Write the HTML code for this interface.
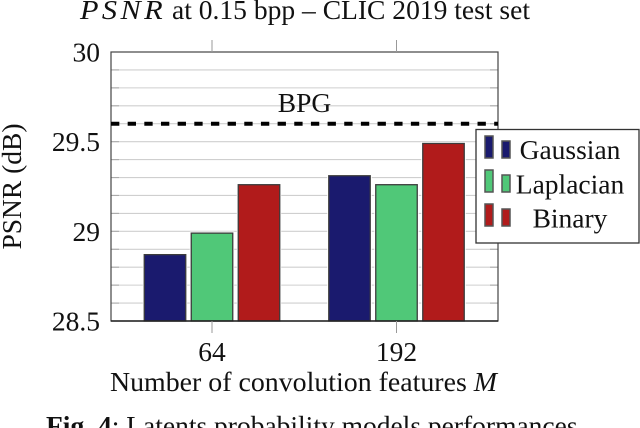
<!DOCTYPE html>
<html lang="en">
<head>
<meta charset="utf-8">
<title>PSNR at 0.15 bpp chart</title>
<style>
html,body{margin:0;padding:0;background:#fff;width:640px;height:428px;overflow:hidden}
svg{display:block;font-family:"Liberation Serif",serif;fill:#111}
</style>
</head>
<body>
<svg id="chart" width="640" height="428" viewBox="0 0 640 428" xmlns="http://www.w3.org/2000/svg">
  <rect width="640" height="428" fill="#fff"/>
  <text x="80" y="19" font-size="27" font-style="italic" letter-spacing="3" textLength="86" lengthAdjust="spacingAndGlyphs">PSNR</text>
  <text x="172" y="19" font-size="27" textLength="358" lengthAdjust="spacingAndGlyphs">at 0.15 bpp – CLIC 2019 test set</text>
  <g id="grid"></g>
  <g id="bars"></g>
  <g id="axes"></g>
  <text x="304.5" y="112" font-size="27.5" text-anchor="middle">BPG</text>
  <text transform="translate(21,186.5) rotate(-90)" font-size="27.5" text-anchor="middle">PSNR (dB)</text>
  <text x="110" y="391" font-size="27.5" textLength="387" lengthAdjust="spacingAndGlyphs">Number of convolution features <tspan font-style="italic">M</tspan></text>
  <g id="legend"></g>
  <text x="46" y="435" font-size="27.5"><tspan font-weight="bold">Fig. 4</tspan>: Latents probability models performances</text>
</svg>
<script>
const categories = ['64', '192'];
const seriesNames = ['Gaussian', 'Laplacian', 'Binary'];
const seriesColors = ['#1a1a6e', '#50c878', '#b11b1b'];
const gaussianValues = [28.87, 29.31];
const laplacianValues = [28.99, 29.26];
const binaryValues = [29.26, 29.49];
const yTickValues = [28.5, 29, 29.5, 30];
const yTickLabels = ['28.5', '29', '29.5', '30'];
const yMinorValues = [28.6, 28.7, 28.8, 28.9, 29.1, 29.2, 29.3, 29.4, 29.6, 29.7, 29.8, 29.9];
const baselineValue = 29.6;

const NS = 'http://www.w3.org/2000/svg';
const plotLeft = 111, plotRight = 498, plotTop = 52, plotBottom = 321;
const yMin = 28.5, yMax = 30;
function yScale(v) { return plotBottom - (v - yMin) / (yMax - yMin) * (plotBottom - plotTop); }
const groupFirst = 212, groupStep = 184.5;
function xScale(i) { return groupFirst + i * groupStep; }
const barWidth = 41.5, barGap = 47;
function make(tag, attrs, parent) {
  const el = document.createElementNS(NS, tag);
  for (const k in attrs) el.setAttribute(k, attrs[k]);
  parent.appendChild(el);
  return el;
}
const grid = document.getElementById('grid');
const bars = document.getElementById('bars');
const axes = document.getElementById('axes');
const legend = document.getElementById('legend');

yTickValues.concat(yMinorValues).forEach(function (v) {
  if (v === yMin || v === yMax) return;
  const line = make('line', {x1: plotLeft, x2: plotRight, y1: yScale(v), y2: yScale(v), stroke: '#cfcfcf', 'stroke-width': 1.1}, grid);
  
  
  const tickL = make('line', {x1: plotLeft, x2: plotLeft + 8, y1: yScale(v), y2: yScale(v), stroke: '#aaa', 'stroke-width': 1.1}, grid);
  
  
  const tickR = make('line', {x1: plotRight - 8, x2: plotRight, y1: yScale(v), y2: yScale(v), stroke: '#aaa', 'stroke-width': 1.1}, grid);
  
  
});

const allSeries = [gaussianValues, laplacianValues, binaryValues];
allSeries.forEach(function (values, s) {
  values.forEach(function (v, i) {
    const cx = xScale(i) + (s - 1) * barGap;
    const halo = make('rect', {x: cx - barWidth / 2 - 1.5, y: yScale(v) - 1.5, width: barWidth + 3, height: plotBottom - yScale(v) + 1.5, fill: '#fff', stroke: 'none'}, bars);
    
    
    const rect = make('rect', {x: cx - barWidth / 2, y: yScale(v), width: barWidth, height: plotBottom - yScale(v), fill: seriesColors[s], stroke: '#3c3c3c', 'stroke-width': 1.3}, bars);
    
    
  });
});

const frame = make('rect', {x: plotLeft, y: plotTop, width: plotRight - plotLeft, height: plotBottom - plotTop, fill: 'none', stroke: '#444', 'stroke-width': 1.2}, axes);


const xLine = make('line', {x1: plotLeft, x2: plotRight, y1: plotBottom, y2: plotBottom, stroke: '#222', 'stroke-width': 1.5}, axes);



yTickValues.forEach(function (v, i) {
  const label = make('text', {x: 100, y: yScale(v) + 9.5, 'font-size': 27.5, 'text-anchor': 'end'}, axes);
  label.textContent = yTickLabels[i];
  
  
});
categories.forEach(function (c, i) {
  const x = xScale(i);
  const t1 = make('line', {x1: x, x2: x, y1: plotTop - 12, y2: plotTop, stroke: '#999', 'stroke-width': 1}, axes);
  
  
  const t2 = make('line', {x1: x, x2: x, y1: plotBottom, y2: plotBottom + 12, stroke: '#999', 'stroke-width': 1}, axes);
  
  
  const label = make('text', {x: x, y: 361, 'font-size': 27.5, 'text-anchor': 'middle'}, axes);
  label.textContent = c;
  
  
});

const dash = make('line', {x1: plotLeft, x2: plotRight, y1: yScale(baselineValue), y2: yScale(baselineValue), stroke: '#000', 'stroke-width': 4, 'stroke-dasharray': '8.33 8.33'}, axes);



const legendBox = make('rect', {x: 476, y: 129.5, width: 163, height: 113.5, fill: '#fff', stroke: '#333', 'stroke-width': 1.3}, legend);


seriesNames.forEach(function (name, s) {
  const rowTop = 136 + s * 34;
  const sw1 = make('rect', {x: 485, y: rowTop, width: 8, height: 22, fill: seriesColors[s], stroke: '#555', 'stroke-width': 1.5}, legend);
  
  
  const sw2 = make('rect', {x: 502, y: rowTop + 5, width: 8, height: 17, fill: seriesColors[s], stroke: '#555', 'stroke-width': 1.5}, legend);
  
  
  const label = make('text', {x: 570, y: 159 + s * 34.3, 'font-size': 27.5, 'text-anchor': 'middle'}, legend);
  label.textContent = name;
  
  
});
</script>
</body>
</html>
